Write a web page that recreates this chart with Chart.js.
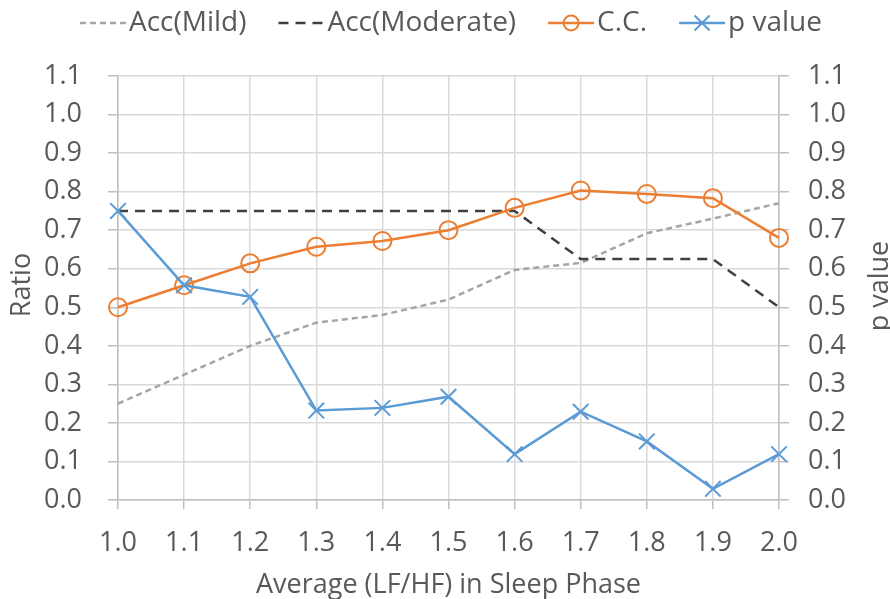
<!DOCTYPE html>
<html>
<head>
<meta charset="utf-8">
<script src="https://cdn.jsdelivr.net/npm/chart.js@4.4.1/dist/chart.umd.min.js"></script>
<style>
  html,body{margin:0;padding:0;background:#fff}
  #wrap{width:890px;height:599px;position:relative}
</style>
</head>
<body>
<div id="wrap"><canvas id="myChart"></canvas></div>
<script>
// data
const labels = ['1.0','1.1','1.2','1.3','1.4','1.5','1.6','1.7','1.8','1.9','2.0']
const accMild = [0.25,0.325,0.40,0.46,0.48,0.52,0.597,0.615,0.692,0.73,0.77]
const accModerate = [0.75,0.75,0.75,0.75,0.75,0.75,0.75,0.625,0.625,0.625,0.50]
const cc = [0.50,0.557,0.614,0.657,0.672,0.70,0.758,0.803,0.794,0.783,0.68]
const pValue = [0.75,0.557,0.527,0.232,0.239,0.268,0.119,0.229,0.152,0.029,0.119]
const yTicks = [0,0.1,0.2,0.3,0.4,0.5,0.6,0.7,0.8,0.9,1.0,1.1]

const seriesNames = ['Acc(Mild)','Acc(Moderate)','C.C.','p value']
const xTitle = 'Average (LF/HF) in Sleep Phase'
const leftTitle = 'Ratio'
const rightTitle = 'p value'

const textColor = '#595959'
const gridColor = '#d9d9d9'
const axisColor = '#bfbfbf'
const FONT = '"Open Sans", "Noto Sans", sans-serif'

Chart.defaults.font.family = FONT
Chart.defaults.font.size = 27
Chart.defaults.color = textColor

// legend + rotated axis titles
const extras = {
  id: 'extras',
  afterDraw(chart) {
    const c = chart.ctx
    c.save()
    c.font = '27px ' + FONT
    c.fillStyle = textColor
    c.textAlign = 'center'
    c.textBaseline = 'middle'

    c.save(); c.translate(22, 285); c.rotate(-Math.PI / 2); c.fillText(leftTitle, 0, 0); c.restore()
    c.save(); c.translate(880, 286); c.rotate(-Math.PI / 2); c.fillText(rightTitle, 0, 0); c.restore()

    // legend
    c.font = '28px ' + FONT
    const sw = 46, gap = 3, itemGap = 32, ly = 23
    const ds = chart.data.datasets
    let total = 0
    ds.forEach((d, i) => {
      total += sw + gap + c.measureText(d.label).width
      if (i < ds.length - 1) total += itemGap
    })
    let x = 451 - total / 2
    c.textAlign = 'left'
    ds.forEach(d => {
      c.save()
      c.strokeStyle = d.borderColor
      c.lineWidth = d.borderWidth
      c.setLineDash(d.borderDash || [])
      c.beginPath(); c.moveTo(x, ly); c.lineTo(x + sw, ly); c.stroke()
      c.setLineDash([])
      const cx = x + sw / 2
      if (d.pointStyle === 'circle') {
        c.lineWidth = 2
        c.beginPath(); c.arc(cx, ly, 7.5, 0, Math.PI * 2); c.stroke()
      } else if (d.pointStyle === 'crossRot') {
        const o = 7.5
        c.lineWidth = 2
        c.beginPath()
        c.moveTo(cx - o, ly - o); c.lineTo(cx + o, ly + o)
        c.moveTo(cx - o, ly + o); c.lineTo(cx + o, ly - o)
        c.stroke()
      }
      c.restore()
      x += sw + gap
      c.fillText(d.label, x, ly)
      x += c.measureText(d.label).width + itemGap
    })
    c.restore()
  }
}

const ctx = document.getElementById('myChart')

const config = {
  type: 'line',
  data: {
    labels: labels,
    datasets: [
      {
        label: seriesNames[0],
        data: accMild,
        borderColor: '#a5a5a5',
        borderWidth: 2.5,
        borderDash: [6, 4],
        pointRadius: 0,
        pointStyle: false,
        yAxisID: 'y',
        order: 4,
        clip: false
      },
      {
        label: seriesNames[1],
        data: accModerate,
        borderColor: '#404040',
        borderWidth: 2.5,
        borderDash: [10, 7],
        pointRadius: 0,
        pointStyle: false,
        yAxisID: 'y',
        order: 3,
        clip: false
      },
      {
        label: seriesNames[2],
        data: cc,
        borderColor: '#ed7d31',
        borderWidth: 2.5,
        pointStyle: 'circle',
        pointRadius: 9,
        pointBorderWidth: 2,
        pointBorderColor: '#ed7d31',
        pointBackgroundColor: 'rgba(0,0,0,0)',
        yAxisID: 'y',
        order: 2,
        clip: false
      },
      {
        label: seriesNames[3],
        data: pValue,
        borderColor: '#5b9bd5',
        borderWidth: 2.5,
        pointStyle: 'crossRot',
        pointRadius: 11,
        pointBorderWidth: 2,
        pointBorderColor: '#5b9bd5',
        yAxisID: 'y1',
        order: 1,
        clip: false
      }
    ]
  },
  options: {
    responsive: true,
    maintainAspectRatio: false,
    animation: false,
    layout: { padding: { top: 76, left: 0, right: 0, bottom: 0 } },
    plugins: {
      legend: { display: false },
      tooltip: { enabled: false }
    },
    scales: {
      x: {
        offset: false,
        grid: { color: gridColor, lineWidth: 1.5, tickLength: 9, tickColor: axisColor },
        border: { color: axisColor, width: 1.5 },
        ticks: { padding: 18, maxRotation: 0, autoSkip: false },
        title: { display: true, text: xTitle, padding: { top: 0, bottom: -3 } },
        afterFit(s) { s.height = 99 }
      },
      y: {
        position: 'left',
        min: 0,
        max: 1.1,
        grid: { color: gridColor, lineWidth: 1.5, tickLength: 10, tickColor: axisColor },
        border: { color: axisColor, width: 1.5 },
        ticks: { padding: 26, callback: v => Number(v).toFixed(1) },
        afterBuildTicks(s) { s.ticks = yTicks.map(v => ({ value: v })) },
        afterFit(s) { s.width = 118 }
      },
      y1: {
        position: 'right',
        min: 0,
        max: 1.1,
        grid: { drawOnChartArea: false, lineWidth: 1.5, tickLength: 10, color: axisColor },
        border: { color: axisColor, width: 1.5 },
        ticks: { padding: 19, callback: v => Number(v).toFixed(1) },
        afterBuildTicks(s) { s.ticks = yTicks.map(v => ({ value: v })) },
        afterFit(s) { s.width = 111 }
      }
    }
  },
  plugins: [extras]
}

const chart = new Chart(ctx, config)
</script>
</body>
</html>
